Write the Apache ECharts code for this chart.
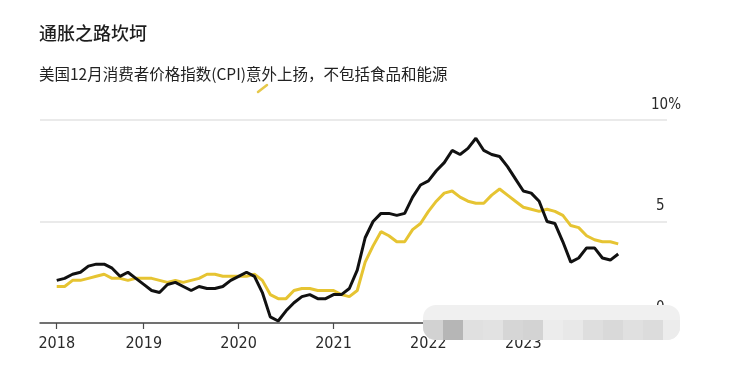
<!DOCTYPE html>
<html>
<head>
<meta charset="utf-8">
<script src="https://cdn.jsdelivr.net/npm/echarts@6/dist/echarts.min.js"></script>
<style>
html,body{margin:0;padding:0;background:#fff;}
#chart{width:739px;height:366px;}
</style>
</head>
<body>
<div id="chart"></div>
<script>
// Monthly data, Jan 2018 – Dec 2023 (year-over-year %)
var months = [
 '2018-01','2018-02','2018-03','2018-04','2018-05','2018-06','2018-07','2018-08','2018-09','2018-10','2018-11','2018-12',
 '2019-01','2019-02','2019-03','2019-04','2019-05','2019-06','2019-07','2019-08','2019-09','2019-10','2019-11','2019-12',
 '2020-01','2020-02','2020-03','2020-04','2020-05','2020-06','2020-07','2020-08','2020-09','2020-10','2020-11','2020-12',
 '2021-01','2021-02','2021-03','2021-04','2021-05','2021-06','2021-07','2021-08','2021-09','2021-10','2021-11','2021-12',
 '2022-01','2022-02','2022-03','2022-04','2022-05','2022-06','2022-07','2022-08','2022-09','2022-10','2022-11','2022-12',
 '2023-01','2023-02','2023-03','2023-04','2023-05','2023-06','2023-07','2023-08','2023-09','2023-10','2023-11','2023-12'
];
// Headline CPI (black)
var headline = [
 2.1,2.2,2.4,2.5,2.8,2.9,2.9,2.7,2.3,2.5,2.2,1.9,
 1.6,1.5,1.9,2.0,1.8,1.6,1.8,1.7,1.7,1.8,2.1,2.3,
 2.5,2.3,1.5,0.3,0.1,0.6,1.0,1.3,1.4,1.2,1.2,1.4,
 1.4,1.7,2.6,4.2,5.0,5.4,5.4,5.3,5.4,6.2,6.8,7.0,
 7.5,7.9,8.5,8.3,8.6,9.1,8.5,8.3,8.2,7.7,7.1,6.5,
 6.4,6.0,5.0,4.9,4.0,3.0,3.2,3.7,3.7,3.2,3.1,3.4
];
// Core CPI, excluding food and energy (yellow)
var core = [
 1.8,1.8,2.1,2.1,2.2,2.3,2.4,2.2,2.2,2.1,2.2,2.2,
 2.2,2.1,2.0,2.1,2.0,2.1,2.2,2.4,2.4,2.3,2.3,2.3,
 2.3,2.4,2.1,1.4,1.2,1.2,1.6,1.7,1.7,1.6,1.6,1.6,
 1.4,1.3,1.6,3.0,3.8,4.5,4.3,4.0,4.0,4.6,4.9,5.5,
 6.0,6.4,6.5,6.2,6.0,5.9,5.9,6.3,6.6,6.3,6.0,5.7,
 5.6,5.5,5.6,5.5,5.3,4.8,4.7,4.3,4.1,4.0,4.0,3.9
];
var yearLabels = ['2018','2019','2020','2021','2022','2023'];
var yTicks = [0, 5, 10];

var titleText = '通胀之路坎坷';
var subtitleText = '美国12月消费者价格指数(CPI)意外上扬，不包括食品和能源';

// month label -> fractional year at month end
function monthPos(m) {
  var p = m.split('-');
  return +p[0] + (+p[1]) / 12;
}
var headlineData = months.map(function (m, i) { return [monthPos(m), headline[i]]; });
var coreData = months.map(function (m, i) { return [monthPos(m), core[i]]; });
// first year tick sits at the first data point, others at the start of each year
var xTickValues = yearLabels.map(function (y, i) { return i === 0 ? monthPos(months[0]) : +y; });

var numFont = '"Liberation Sans Narrow", "DejaVu Sans Condensed", sans-serif';
var cjkFont = '"Noto Sans CJK SC", sans-serif';

var chart = echarts.init(document.getElementById('chart'), null, {renderer: 'canvas'});

var mosaic = [
  '#d2d2d2','#b6b6b6','#e0e0e0','#e2e2e2','#d6d6d6','#d3d3d3','#ececec',
  '#e8e8e8','#dedede','#d9d9d9','#e0e0e0','#dcdcdc','#ececec'
];
var graphics = [
  { type: 'line', shape: {x1: 258, y1: 92, x2: 267, y2: 85},
    style: {stroke: '#e6c84a', lineWidth: 2.5, lineCap: 'round'}, z: 10 },
  { type: 'rect', shape: {x: 423, y: 305, width: 257, height: 35, r: 13},
    style: {fill: '#f0f0f0'}, z: 100 }
];
mosaic.forEach(function (c, i) {
  var x = 423 + i * 20;
  var w = (i === mosaic.length - 1) ? 17 : 20;
  graphics.push({
    type: 'rect',
    shape: {x: x, y: 320, width: w, height: 20, r: i === 0 ? [0,0,0,13] : (i === mosaic.length - 1 ? [0,0,13,0] : 0)},
    style: {fill: c}, z: 101
  });
});

var option = {
  backgroundColor: '#ffffff',
  animation: false,
  title: {
    left: 34, top: 16,
    text: titleText,
    subtext: subtitleText,
    itemGap: 19,
    textStyle: {fontFamily: cjkFont, fontSize: 18, fontWeight: 500, color: '#1e1e1e', lineHeight: 24},
    subtextStyle: {fontFamily: cjkFont, fontSize: 15.5, color: '#222', lineHeight: 20}
  },
  grid: {left: 40, right: 72, top: 120, bottom: 43, containLabel: false},
  xAxis: {
    type: 'value',
    min: 2017.907, max: 2024.514,
    splitLine: {show: false},
    axisLine: {show: true, onZero: false, lineStyle: {color: '#4a4a4a', width: 1.5}},
    axisTick: {show: true, customValues: xTickValues, length: 6, lineStyle: {color: '#4a4a4a', width: 1.2}},
    axisLabel: {
      customValues: xTickValues,
      margin: 13,
      fontFamily: numFont, fontSize: 16, color: '#2a2a2a',
      formatter: function (v) { return String(Math.floor(v + 1e-6)); }
    }
  },
  yAxis: {
    type: 'value',
    position: 'right',
    min: 0, max: 10, interval: 5,
    axisLine: {show: false},
    axisTick: {show: false},
    splitLine: {show: true, lineStyle: {color: '#e3e3e3', width: 1.5}},
    axisLabel: {
      margin: -16,
      align: 'left',
      verticalAlign: 'bottom',
      lineHeight: 14,
      padding: [0, 0, 8, 0],
      fontFamily: numFont, fontSize: 15, color: '#2a2a2a',
      formatter: function (v) { return v === 10 ? '{p|' + v + '%}' : '{n|' + v + '}'; },
      rich: {
        p: {fontFamily: numFont, fontSize: 15, color: '#2a2a2a', lineHeight: 14},
        n: {fontFamily: numFont, fontSize: 15, color: '#2a2a2a', lineHeight: 14, padding: [0, 0, 0, 5]}
      }
    }
  },
  series: [
    {
      name: '核心CPI', type: 'line', data: coreData, showSymbol: false,
      lineStyle: {color: '#e6c432', width: 3}, z: 2
    },
    {
      name: 'CPI', type: 'line', data: headlineData, showSymbol: false,
      lineStyle: {color: '#111111', width: 3}, z: 3
    }
  ],
  graphic: graphics
};
chart.setOption(option);
</script>
</body>
</html>
